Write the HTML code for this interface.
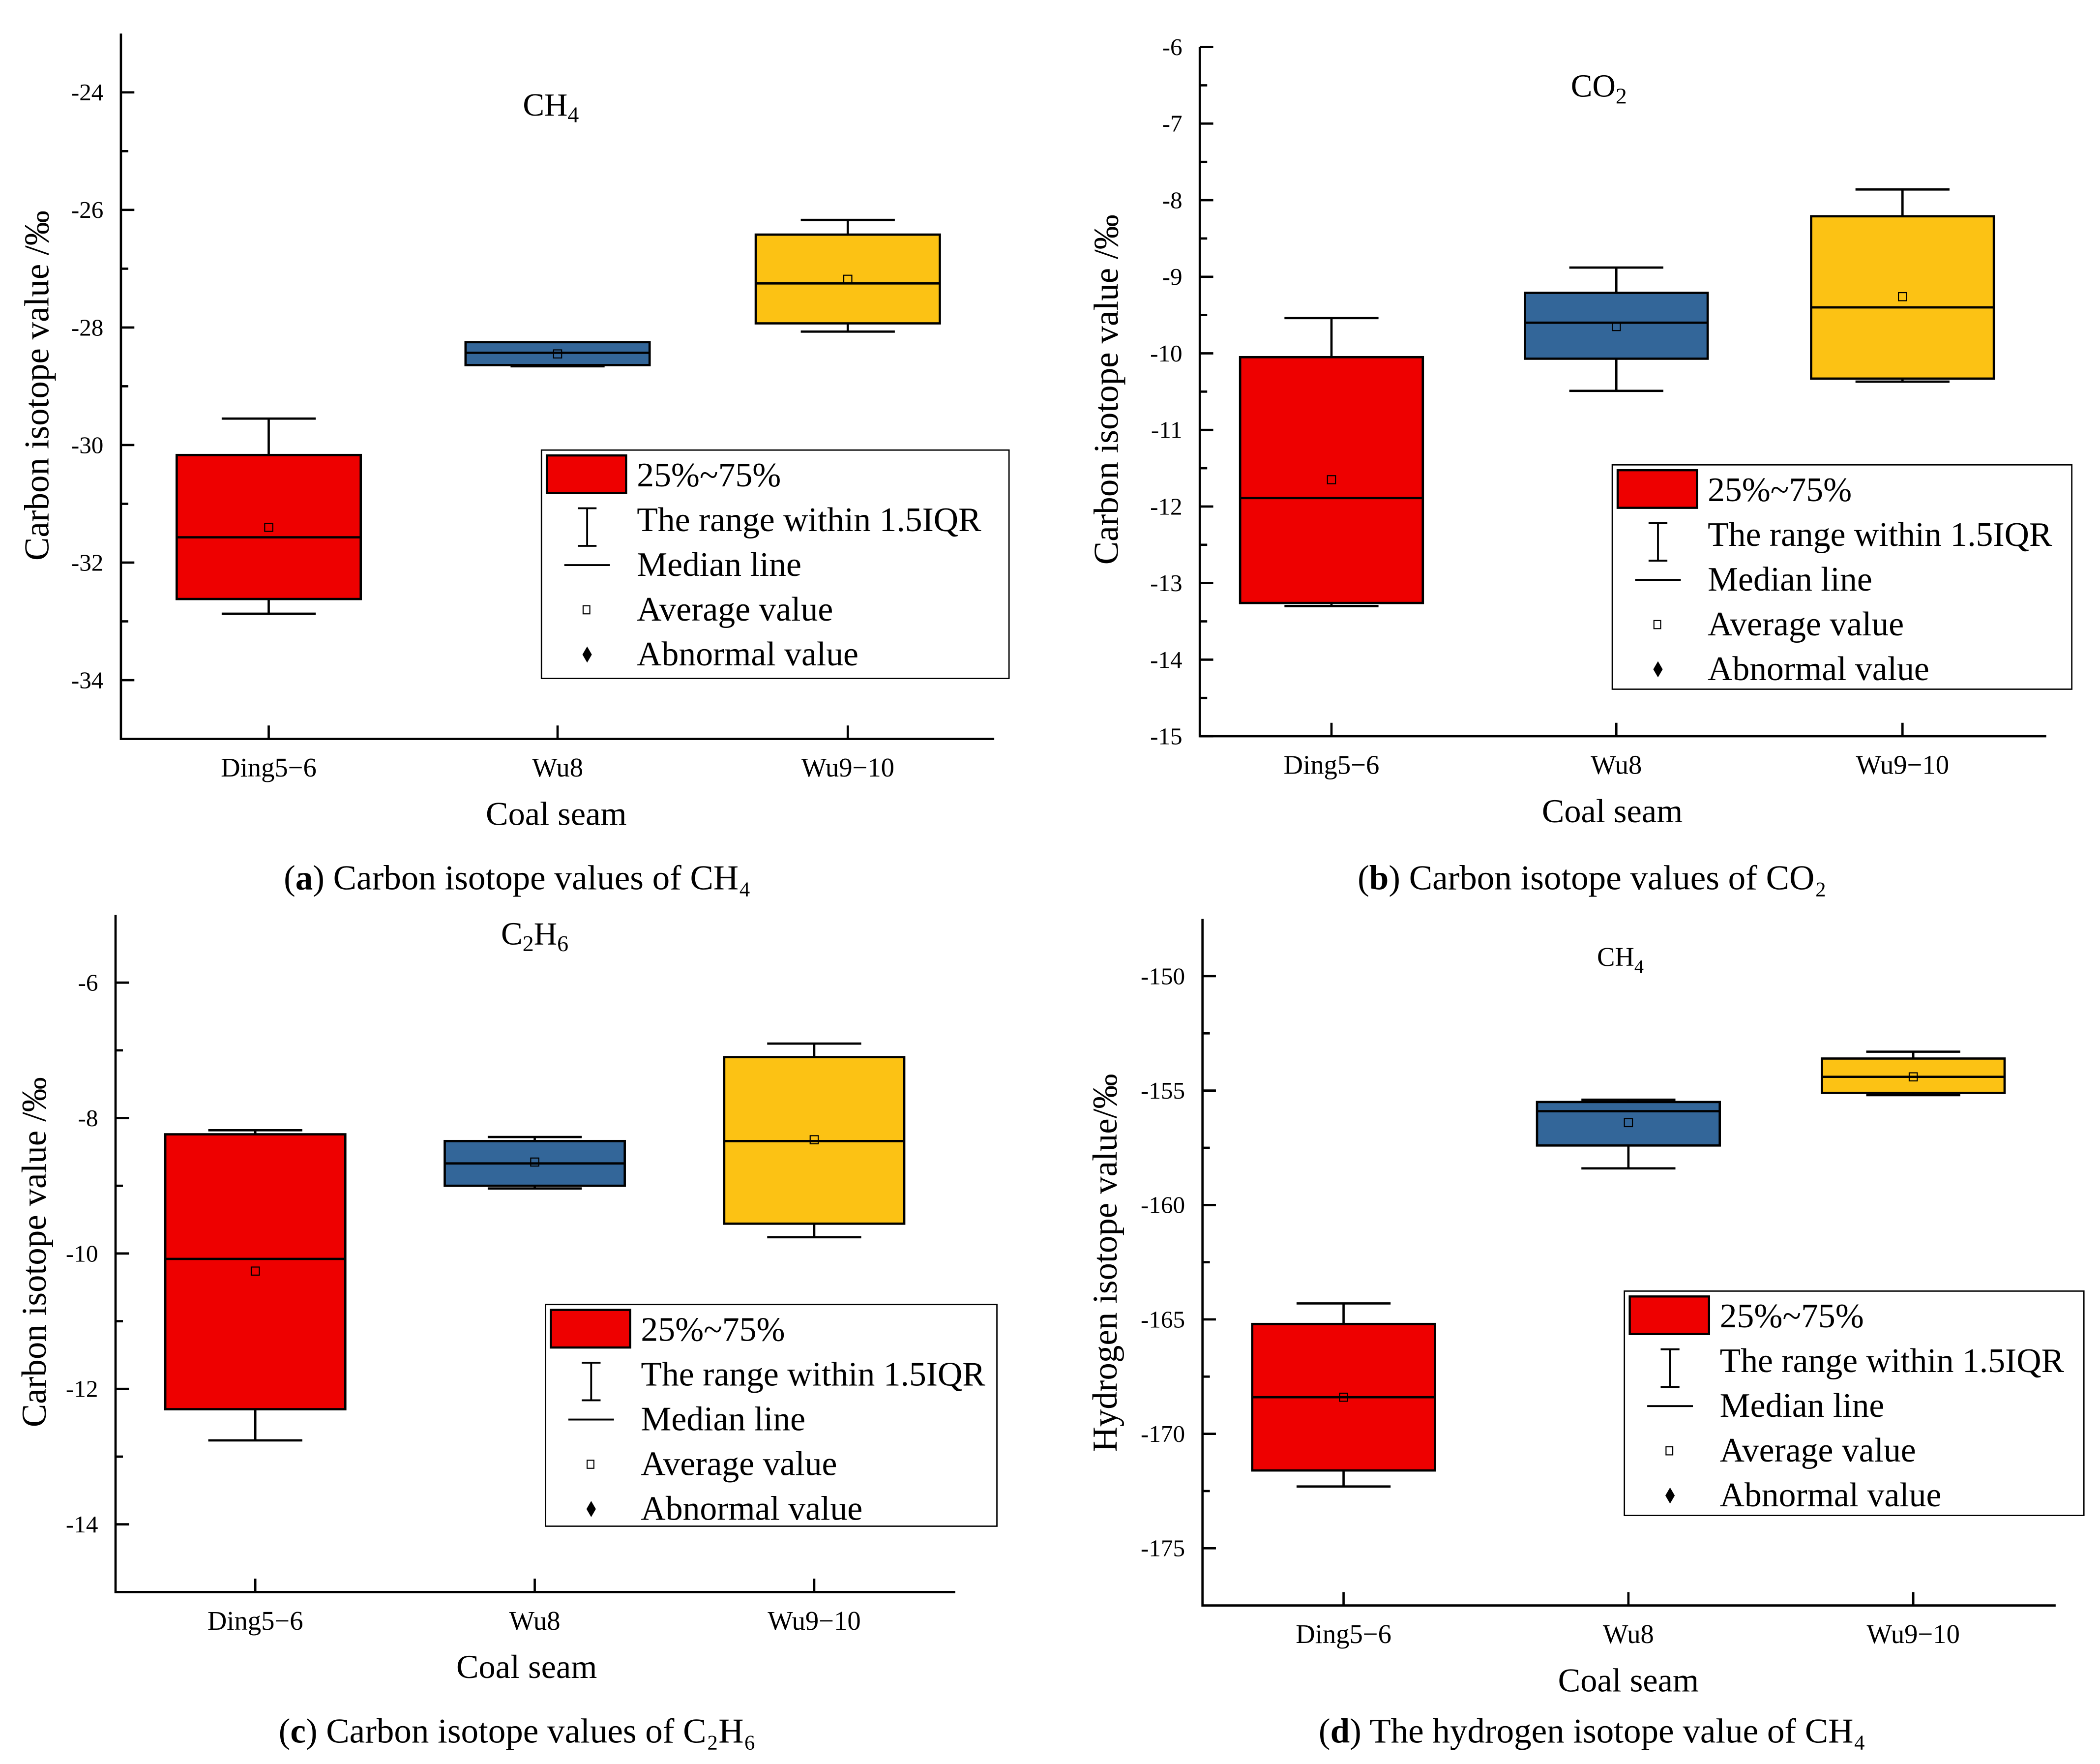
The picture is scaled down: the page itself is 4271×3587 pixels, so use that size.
<!DOCTYPE html>
<html><head><meta charset="utf-8"><title>Isotope box plots</title>
<style>html,body{margin:0;padding:0;background:#fff}svg{display:block}text{font-family:"Liberation Serif",serif;fill:#000}</style>
</head><body>
<svg id="root" xmlns="http://www.w3.org/2000/svg" width="4271" height="3587" viewBox="0 0 1563 1313" preserveAspectRatio="none"></svg>
<script>
// Shared categories
const categories = ["Ding5\u22126", "Wu8", "Wu9\u221210"];
const boxColors = ["#EE0000", "#336699", "#FCC214"];

// Panel A: CH4 carbon
const aHigh = [-29.55, -28.25, -26.17];
const aQ3 = [-30.17, -28.25, -26.42];
const aMedian = [-31.57, -28.43, -27.25];
const aMean = [-31.40, -28.45, -27.18];
const aQ1 = [-32.62, -28.64, -27.93];
const aLow = [-32.87, -28.66, -28.07];
const aTicks = [-24, -26, -28, -30, -32, -34];

// Panel B: CO2 carbon
const bHigh = [-9.54, -8.88, -7.86];
const bQ3 = [-10.05, -9.21, -8.21];
const bMedian = [-11.89, -9.60, -9.40];
const bMean = [-11.65, -9.65, -9.26];
const bQ1 = [-13.26, -10.07, -10.33];
const bLow = [-13.30, -10.49, -10.37];
const bTicks = [-6, -7, -8, -9, -10, -11, -12, -13, -14, -15];

// Panel C: C2H6 carbon
const cHigh = [-8.18, -8.28, -6.90];
const cQ3 = [-8.24, -8.34, -7.10];
const cMedian = [-10.08, -8.67, -8.34];
const cMean = [-10.26, -8.65, -8.32];
const cQ1 = [-12.30, -9.00, -9.56];
const cLow = [-12.76, -9.04, -9.76];
const cTicks = [-6, -8, -10, -12, -14];

// Panel D: CH4 hydrogen
const dHigh = [-164.3, -155.4, -153.3];
const dQ3 = [-165.2, -155.5, -153.6];
const dMedian = [-168.4, -155.9, -154.4];
const dMean = [-168.4, -156.4, -154.4];
const dQ1 = [-171.6, -157.4, -155.1];
const dLow = [-172.3, -158.4, -155.2];
const dTicks = [-150, -155, -160, -165, -170, -175];

const NS = "http://www.w3.org/2000/svg";
const root = document.getElementById("root");
function mk(tag, attrs, parent) {
  const e = document.createElementNS(NS, tag);
  for (const k in attrs) e.setAttribute(k, attrs[k]);
  (parent || root).appendChild(e);
  return e;
}

function panel(p) {
  const g = mk("g", {});
  
  
  const y = v => p.y0 + (p.vmax - v) / (p.vmax - p.vmin) * (p.y1 - p.y0);
  const x = i => p.cx[i];
  const ax = mk("path", {d:`M${p.x0},${p.y0} L${p.x0},${p.y1} L${p.x1},${p.y1}`, fill:"none", stroke:"#000", "stroke-width":1.7}, g);
  
  
  const step = p.ticks[0] - p.ticks[1];
  p.ticks.forEach(t => {
    const yy = y(t);
    mk("line", {x1:p.x0, x2:p.x0+10, y1:yy, y2:yy, stroke:"#000", "stroke-width":1.7}, g);
    const mv = t - step/2;
    if (mv > p.vmin) { const ym = y(mv); mk("line", {x1:p.x0, x2:p.x0+5.5, y1:ym, y2:ym, stroke:"#000", "stroke-width":1.7}, g); }
    const lb = mk("text", {x:p.x0-13, y:yy+6, "text-anchor":"end", "font-size":18}, g);
    lb.textContent = String(t);
    
    
  });
  const topMinor = p.ticks[0] + step/2;
  if (topMinor < p.vmax) { const ym = y(topMinor); mk("line", {x1:p.x0, x2:p.x0+5.5, y1:ym, y2:ym, stroke:"#000", "stroke-width":1.7}, g); }
  categories.forEach((c, i) => {
    const cx = x(i);
    mk("line", {x1:cx, x2:cx, y1:y(p.hi[i]), y2:y(p.lo[i]), stroke:"#000", "stroke-width":1.7}, g);
    mk("line", {x1:cx-35, x2:cx+35, y1:y(p.hi[i]), y2:y(p.hi[i]), stroke:"#000", "stroke-width":1.7}, g);
    mk("line", {x1:cx-35, x2:cx+35, y1:y(p.lo[i]), y2:y(p.lo[i]), stroke:"#000", "stroke-width":1.7}, g);
    const b = mk("rect", {x:cx-p.bw/2, y:y(p.q3[i]), width:p.bw, height:y(p.q1[i])-y(p.q3[i]), fill:boxColors[i], stroke:"#000", "stroke-width":1.7}, g);
    
    
    mk("line", {x1:cx-p.bw/2, x2:cx+p.bw/2, y1:y(p.med[i]), y2:y(p.med[i]), stroke:"#000", "stroke-width":1.7}, g);
    mk("rect", {x:cx-3, y:y(p.mean[i])-3, width:6, height:6, fill:"none", stroke:"#000", "stroke-width":0.8}, g);
    mk("line", {x1:cx, x2:cx, y1:p.y1, y2:p.y1-10, stroke:"#000", "stroke-width":1.7}, g);
    const cl = mk("text", {x:cx, y:p.y1+28, "text-anchor":"middle", "font-size":20}, g);
    cl.textContent = c;
    
    
  });
  const xt = mk("text", {x:p.xtX, y:p.y1+64, "text-anchor":"middle", "font-size":25}, g);
  xt.textContent = "Coal seam";
  
  
  const yt = mk("text", {x:0, y:0, "text-anchor":"middle", "font-size":26, transform:`translate(${p.ytX},${p.ytY}) rotate(-90)`}, g);
  yt.textContent = p.ytitle;
  
  
  const tt = mk("text", {x:p.tX, y:p.tY, "text-anchor":"middle", "font-size":p.tSize}, g);
  
  
  p.title.forEach(part => {
    const s = mk("tspan", part[1] ? {"font-size":p.tSize*0.7, dy:5} : {dy: tt.childNodes.length ? -5 : 0}, tt);
    s.textContent = part[0];
  });
  const L = p.leg;
  const lg = mk("g", {}, g);
  
  
  mk("rect", {x:L[0], y:L[1], width:L[2], height:L[3], fill:"#fff", stroke:"#000", "stroke-width":1}, lg);
  const ix = L[0] + 34, tx = L[0] + 71, rs = 33.3, by = L[1] + 27;
  mk("rect", {x:L[0]+4, y:L[1]+4, width:59, height:28, fill:"#EE0000", stroke:"#000", "stroke-width":1.6}, lg);
  mk("path", {d:`M${ix-7},${by+rs-17} h14 M${ix},${by+rs-17} v28 M${ix-7},${by+rs+11} h14`, fill:"none", stroke:"#000", "stroke-width":1.4}, lg);
  mk("line", {x1:ix-17, x2:ix+17, y1:by+2*rs-8, y2:by+2*rs-8, stroke:"#000", "stroke-width":1.4}, lg);
  mk("rect", {x:ix-3, y:by+3*rs-11, width:5, height:6, fill:"none", stroke:"#000", "stroke-width":0.8}, lg);
  mk("path", {d:`M${ix},${by+4*rs-14} l3.5,6 l-3.5,6 l-3.5,-6z`, fill:"#000"}, lg);
  ["25%~75%", "The range within 1.5IQR", "Median line", "Average value", "Abnormal value"].forEach((t, k) => {
    const e = mk("text", {x:tx, y:by+k*rs, "font-size":25.5}, lg);
    e.textContent = t;
    
    
  });
  const cap = mk("text", {x:p.capX, y:p.capY, "text-anchor":"middle", "font-size":26}, g);
  
  
  const c1 = mk("tspan", {}, cap); c1.textContent = "(";
  const c2 = mk("tspan", {"font-weight":"bold"}, cap); c2.textContent = p.letter;
  const c3 = mk("tspan", {}, cap); c3.textContent = ") " + p.caption;
}

panel({id:"panel-a", x0:90, x1:740, y0:25, y1:550, vmin:-35, vmax:-23, cx:[200,415,631], bw:137,
  hi:aHigh, q3:aQ3, med:aMedian, mean:aMean, q1:aQ1, lo:aLow, ticks:aTicks,
  xtX:414, ytX:36, ytY:287, ytitle:"Carbon isotope value /‰",
  title:[["CH"],["4",1]], tX:410, tY:86, tSize:24, leg:[403,335,348,170],
  capX:385, capY:662, letter:"a", caption:"Carbon isotope values of CH\u2084"});
panel({id:"panel-b", x0:893, x1:1523, y0:35, y1:548, vmin:-15, vmax:-6, cx:[991,1203,1416], bw:136,
  hi:bHigh, q3:bQ3, med:bMedian, mean:bMean, q1:bQ1, lo:bLow, ticks:bTicks,
  xtX:1200, ytX:832, ytY:290, ytitle:"Carbon isotope value /‰",
  title:[["CO"],["2",1]], tX:1190, tY:72, tSize:24, leg:[1200,346,342,167],
  capX:1185, capY:662, letter:"b", caption:"Carbon isotope values of CO\u2082"});
panel({id:"panel-c", x0:86, x1:711, y0:681, y1:1185, vmin:-15, vmax:-5, cx:[190,398,606], bw:134,
  hi:cHigh, q3:cQ3, med:cMedian, mean:cMean, q1:cQ1, lo:cLow, ticks:cTicks,
  xtX:392, ytX:34, ytY:932, ytitle:"Carbon isotope value /‰",
  title:[["C"],["2",1],["H"],["6",1]], tX:398, tY:703, tSize:24, leg:[406,971,336,165],
  capX:385, capY:1297, letter:"c", caption:"Carbon isotope values of C\u2082H\u2086"});
panel({id:"panel-d", x0:895, x1:1530, y0:684, y1:1195, vmin:-177.5, vmax:-147.5, cx:[1000,1212,1424], bw:136,
  hi:dHigh, q3:dQ3, med:dMedian, mean:dMean, q1:dQ1, lo:dLow, ticks:dTicks,
  xtX:1212, ytX:831, ytY:940, ytitle:"Hydrogen isotope value/‰",
  title:[["CH"],["4",1]], tX:1206, tY:719, tSize:20, leg:[1209,961,342,167],
  capX:1185, capY:1297, letter:"d", caption:"The hydrogen isotope value of CH\u2084"});
</script>
</body></html>
